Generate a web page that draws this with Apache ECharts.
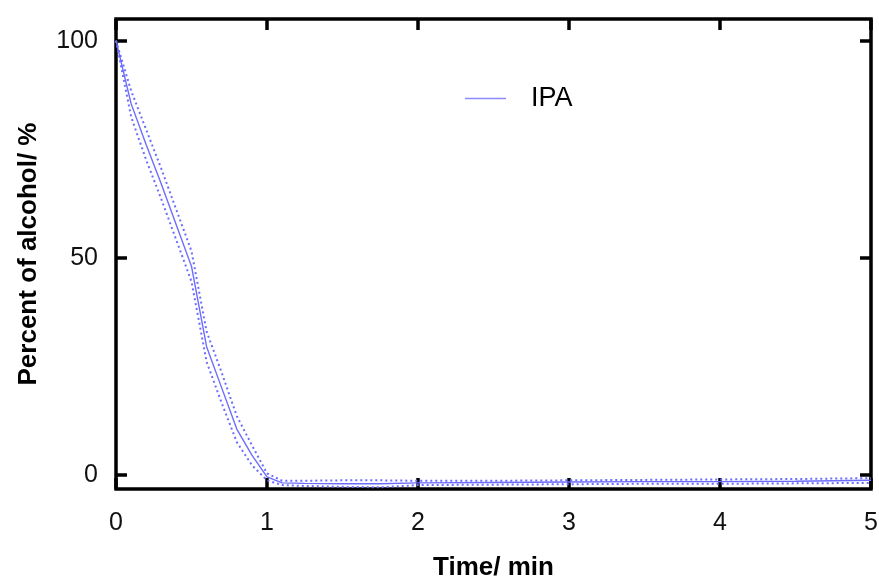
<!DOCTYPE html>
<html>
<head>
<meta charset="utf-8">
<script src="https://cdn.jsdelivr.net/npm/echarts@6/dist/echarts.min.js"></script>
<style>
html,body{margin:0;padding:0;background:#fff;}
#chart{width:879px;height:578px;}
</style>
</head>
<body>
<div id="chart"></div>
<script>
// Data
const timeMin = [0, 0.1, 0.2, 0.3, 0.4, 0.5, 0.6, 0.7, 0.8, 0.9, 1.0, 1.1, 1.25, 1.5, 1.75, 2, 2.5, 3, 3.5, 4, 4.5, 5];
const ipaMean = [100, 85.5, 76, 67, 57.5, 48, 29.5, 20, 10.5, 4.5, -0.5, -1.9, -2.0, -2.1, -2.1, -1.9, -1.8, -1.7, -1.6, -1.6, -1.5, -1.3];
const ipaUpper = [100, 88.5, 79.5, 70.5, 61, 51.5, 33, 23.5, 13.5, 6.8, 0.3, -1.4, -1.4, -1.3, -1.3, -1.4, -1.4, -1.3, -1.2, -1.1, -1.0, -0.8];
const ipaLower = [100, 82.5, 72.5, 63.5, 54, 44.5, 26, 16.5, 7.5, 2.2, -1.3, -2.4, -2.6, -2.8, -2.9, -2.4, -2.3, -2.2, -2.1, -2.1, -2.0, -1.9];
const yTickValues = [0, 50, 100];
const seriesName = 'IPA';
const xTitle = 'Time/ min';
const yTitle = 'Percent of alcohol/ %';

const pairs = (ys) => timeMin.map((t, i) => [t, ys[i]]);
const FONT = '"Liberation Sans", Arial, sans-serif';
const LINE_COLOR = '#6c6cff';

const chart = echarts.init(document.getElementById('chart'), null, {renderer: 'canvas'});
const noLine = () => ({show: false, onZero: false});
const xTick = () => ({show: true, inside: true, length: 11, lineStyle: {color: '#000', width: 3.5}});
const yTick = () => ({show: true, inside: true, length: 11, customValues: yTickValues.slice(), lineStyle: {color: '#000', width: 3.5}});
chart.setOption({
  animation: false,
  backgroundColor: '#fff',
  grid: {left: 116, right: 8, top: 19, bottom: 89, containLabel: false, outerBoundsMode: 'none',
         show: true, borderColor: '#000', borderWidth: 3.5, backgroundColor: 'transparent'},
  legend: {
    data: [{name: seriesName, icon: 'rect'}],
    left: 460, top: 80,
    itemWidth: 41, itemHeight: 1.5,
    itemStyle: {color: '#8c8cff'},
    textStyle: {fontFamily: FONT, fontSize: 27, color: '#000', padding: [0, 0, 0, 20]}
  },
  xAxis: [
    {
      type: 'value', position: 'bottom', min: 0, max: 5, interval: 1,
      name: xTitle, nameLocation: 'middle', nameGap: 66,
      nameTextStyle: {fontFamily: FONT, fontSize: 26, fontWeight: 'bold', color: '#000'},
      axisLine: noLine(),
      axisTick: xTick(),
      axisLabel: {fontFamily: FONT, fontSize: 25, color: '#111', margin: 22},
      splitLine: {show: false}
    },
    {
      type: 'value', position: 'top', min: 0, max: 5, interval: 1,
      axisLine: noLine(), axisTick: xTick(),
      axisLabel: {show: false}, splitLine: {show: false}
    }
  ],
  yAxis: [
    {
      type: 'value', position: 'left', min: -3.3, max: 105,
      name: yTitle, nameLocation: 'middle', nameGap: 74,
      nameTextStyle: {fontFamily: FONT, fontSize: 26, fontWeight: 'bold', color: '#000'},
      axisLine: noLine(),
      axisTick: yTick(),
      axisLabel: {customValues: yTickValues.slice(), fontFamily: FONT, fontSize: 25, color: '#111', margin: 18},
      splitLine: {show: false}
    },
    {
      type: 'value', position: 'right', min: -3.3, max: 105,
      axisLine: noLine(),
      axisTick: yTick(),
      axisLabel: {show: false, customValues: yTickValues.slice()}, splitLine: {show: false}
    }
  ],
  series: [
    {
      name: seriesName, type: 'line', data: pairs(ipaMean),
      symbol: 'none', showSymbol: false, z: 3,
      lineStyle: {color: LINE_COLOR, width: 1.4}, itemStyle: {color: LINE_COLOR}
    },
    {
      name: seriesName + ' upper', type: 'line', data: pairs(ipaUpper),
      symbol: 'none', showSymbol: false, z: 2,
      lineStyle: {color: LINE_COLOR, width: 2, type: [2, 3]}, itemStyle: {color: LINE_COLOR}
    },
    {
      name: seriesName + ' lower', type: 'line', data: pairs(ipaLower),
      symbol: 'none', showSymbol: false, z: 2,
      lineStyle: {color: LINE_COLOR, width: 2, type: [2, 3]}, itemStyle: {color: LINE_COLOR}
    }
  ]
});
</script>
</body>
</html>
